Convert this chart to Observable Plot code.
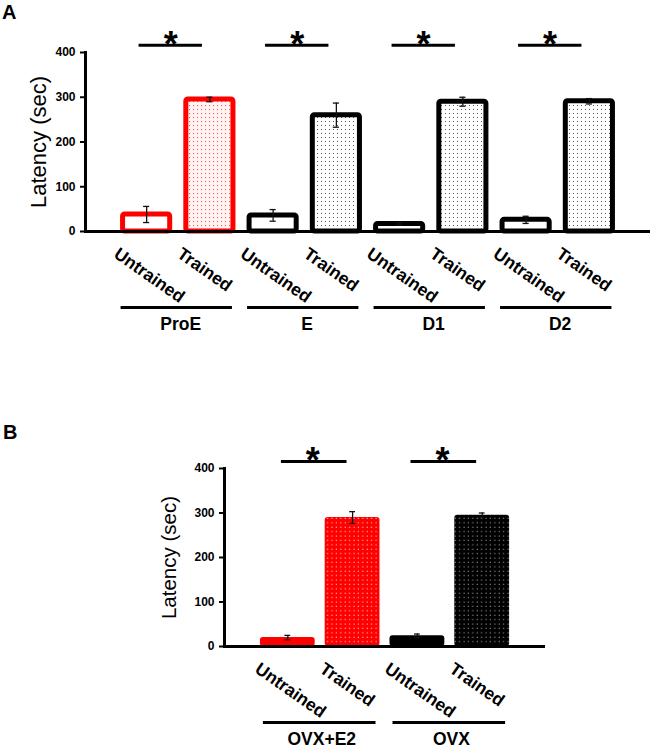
<!DOCTYPE html>
<html><head><meta charset="utf-8">
<script src="https://cdn.jsdelivr.net/npm/d3@7"></script>
<script src="https://cdn.jsdelivr.net/npm/@observablehq/plot@0.6"></script>
<style>
body{margin:0;background:#fff;width:651px;height:748px;overflow:hidden;position:relative;font-family:"Liberation Sans",Arial,sans-serif;}
.panel{position:absolute;left:0;}
.letter{position:absolute;font-weight:bold;font-size:20px;line-height:1;color:#000;}
</style></head><body>
<div id="chartA" class="panel" style="top:0px"></div>
<div id="chartB" class="panel" style="top:380px"></div>
<div class="letter" style="left:2px;top:2px">A</div>
<div class="letter" style="left:3px;top:422px">B</div>
<script>
// ---- data ----
const groupsA = ["ProE", "E", "D1", "D2"];
const conditions = ["Untrained", "Trained"];
const untrainedA = [38, 36, 17, 26];
const untrainedErrA = [18, 13, 3, 8];
const trainedA = [295, 260, 290, 291];
const trainedErrA = [5, 27, 10, 6];

const groupsB = ["OVX+E2", "OVX"];
const untrainedB = [20, 24];
const untrainedErrB = [5, 4];
const trainedB = [290, 295];
const trainedErrB = [13, 5];

const yTicks = [0, 100, 200, 300, 400];
const yLabel = "Latency (sec)";
const sigLevel = 416;
const sigMark = "*";

function build(groups, unt, untErr, tr, trErr) {
  return groups.flatMap((g, i) => conditions.map(c => ({
    key: g + "|" + c, group: g, condition: c,
    mean: c === "Untrained" ? unt[i] : tr[i],
    err: c === "Untrained" ? untErr[i] : trErr[i]
  })));
}
const dataA = build(groupsA, untrainedA, untrainedErrA, trainedA, trainedErrA);
const dataB = build(groupsB, untrainedB, untrainedErrB, trainedB, trainedErrB);

const FONT = "'Liberation Sans', Arial, Helvetica, sans-serif";

const patterns = `
<pattern id="pRedDots" width="4" height="4" patternUnits="userSpaceOnUse"><rect width="4" height="4" fill="#fff3f3"/><rect x="1" y="1" width="1.1" height="1.1" fill="#ff5a5a"/></pattern>
<pattern id="pBlackDots" width="4" height="4" patternUnits="userSpaceOnUse"><rect width="4" height="4" fill="#fff"/><rect x="1" y="1" width="1" height="1" fill="#555"/></pattern>
<pattern id="pRedWhite" width="4.4" height="4.4" patternUnits="userSpaceOnUse"><rect width="4.4" height="4.4" fill="#ff0000"/><rect x="1.5" y="1.5" width="1.1" height="1.1" fill="#ffc8c8"/></pattern>
<pattern id="pBlackWhite" width="4.4" height="4.4" patternUnits="userSpaceOnUse"><rect width="4.4" height="4.4" fill="#000"/><rect x="1.5" y="1.5" width="1.1" height="1.1" fill="#a0a0a0"/></pattern>`;

function addDefs(svg) {
  const defs = document.createElementNS("http://www.w3.org/2000/svg", "defs");
  defs.innerHTML = patterns;
  svg.insertBefore(defs, svg.firstChild);
  return svg;
}

function panel(opts) {
  const {data, groups, height, mt, mb, ml, mr, pi, po, barMarks, capInset,
         sigInsetL, sigInsetR, starDx, grpInsetL, grpInsetR, labelSize} = opts;
  return Plot.plot({
    width: 651, height,
    marginTop: mt, marginBottom: mb, marginLeft: ml, marginRight: mr,
    style: {fontFamily: FONT, fontWeight: "bold", overflow: "visible", background: "transparent", color: "#000"},
    x: {type: "band", domain: data.map(d => d.key), paddingInner: pi, paddingOuter: po, align: 0.5, round: false, axis: null},
    y: {domain: [0, 400], label: null},
    color: {type: "identity"},
    marks: [
      ...barMarks,
      Plot.ruleX(data, {x: "key", y1: d => d.mean - d.err, y2: d => d.mean + d.err, stroke: "#111", strokeWidth: 1.3}),
      Plot.tickY(data, {x: "key", y: d => d.mean - d.err, stroke: "#111", strokeWidth: 1.3, insetLeft: capInset, insetRight: capInset}),
      Plot.tickY(data, {x: "key", y: d => d.mean + d.err, stroke: "#111", strokeWidth: 1.3, insetLeft: capInset, insetRight: capInset}),
      Plot.ruleY([0], {stroke: "#000", strokeWidth: 3}),
      Plot.frame({anchor: "left", stroke: "#000", strokeWidth: 3}),
      Plot.axisY(yTicks, {tickSize: 5, tickPadding: 5, fontSize: 12, fontWeight: "bold", strokeWidth: 2, label: null}),
      Plot.text([yLabel], {frameAnchor: "left", textAnchor: "middle", lineAnchor: "middle", rotate: -90, dx: opts.ylabDx, text: d => d, fontSize: labelSize, fontWeight: "normal"}),
      // significance bars and stars
      Plot.ruleY(groups, {x1: g => g + "|Untrained", x2: g => g + "|Trained", y: () => sigLevel, stroke: "#000", strokeWidth: 3, insetLeft: sigInsetL, insetRight: sigInsetR}),
      Plot.text(groups, {x: g => g + "|Untrained", y: () => sigLevel, text: () => sigMark, dx: starDx, fontSize: 36, fontWeight: "bold"}),
      // rotated category labels
      Plot.text(data, {x: "key", y: () => 0, text: "condition", rotate: 35, textAnchor: "start", lineAnchor: "bottom", dx: -34, dy: 25, fontSize: 17.5, fontWeight: "bold"}),
      // group lines and names
      Plot.ruleY(groups, {x1: g => g + "|Untrained", x2: g => g + "|Trained", y: () => 0, dy: 76, stroke: "#000", strokeWidth: 3, insetLeft: grpInsetL, insetRight: grpInsetR}),
      Plot.text(groups, {x: g => g + "|Untrained", y: () => 0, text: d => d, dx: 34, dy: 98, lineAnchor: "bottom", fontSize: 17.5, fontWeight: "bold"})
    ]
  });
}

const svgA = panel({
  data: dataA, groups: groupsA, height: 360, mt: 52, mb: 129, ml: 85, mr: 1,
  pi: 0.255, po: 0.594, capInset: 20.5, sigInsetL: 16, sigInsetR: 31, starDx: 24,
  grpInsetL: -2, grpInsetR: 1, labelSize: 22, ylabDx: -47,
  barMarks: [
    Plot.barY(dataA, {x: "key", y: "mean",
      fill: d => d.condition === "Untrained" ? "#ffffff" : (d.group === "ProE" ? "url(#pRedDots)" : "url(#pBlackDots)"),
      stroke: d => d.group === "ProE" ? "#ff0000" : "#000000",
      strokeWidth: 5, strokeLinejoin: "round", rx: 2})
  ]
});
document.getElementById("chartA").appendChild(addDefs(svgA));

const svgB = panel({
  data: dataB, groups: groupsB, height: 368, mt: 88, mb: 102, ml: 224, mr: 106,
  pi: 0.154, po: 0.554, capInset: 24.5, sigInsetL: 21, sigInsetR: 33, starDx: 25,
  grpInsetL: 3, grpInsetR: 4, labelSize: 20.5, ylabDx: -55,
  barMarks: [
    Plot.barY(dataB, {x: "key", y: "mean",
      fill: d => d.group === "OVX+E2"
        ? (d.condition === "Untrained" ? "#ff0000" : "url(#pRedWhite)")
        : (d.condition === "Untrained" ? "#000000" : "url(#pBlackWhite)"),
      rx: 3})
  ]
});
document.getElementById("chartB").appendChild(addDefs(svgB));
</script>
</body></html>
